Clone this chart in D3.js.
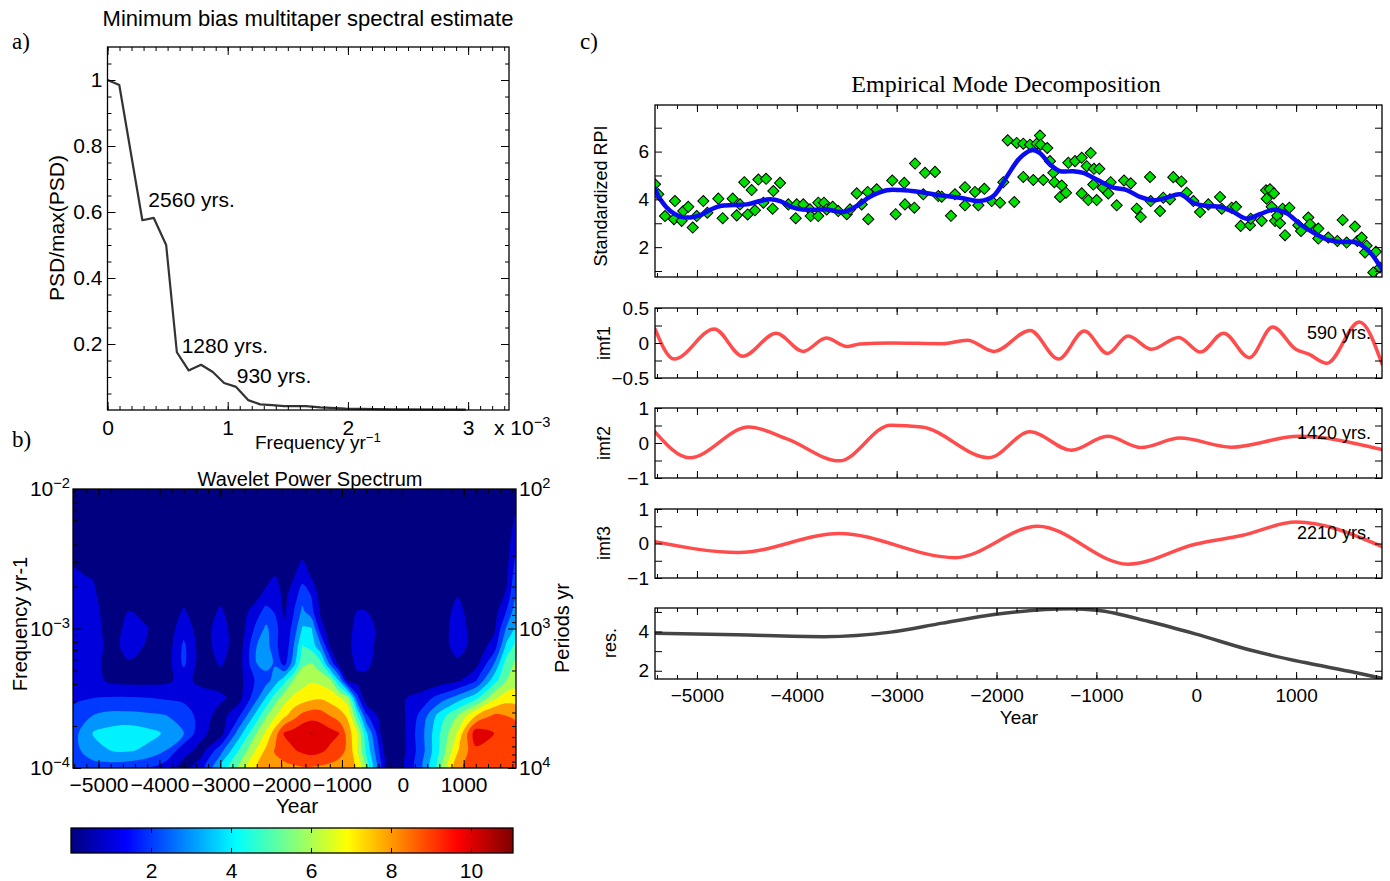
<!DOCTYPE html>
<html>
<head>
<meta charset="utf-8">
<script src="https://cdn.jsdelivr.net/npm/d3@7/dist/d3.min.js"></script>
<style>
  body { margin: 0; background: #fff; }
</style>
</head>
<body>
<svg id="fig" width="1390" height="881"></svg>
<script>
"use strict";

// ---------- a) minimum bias multitaper spectrum (frequency in 1e-3 / yr) ----------
var psdFreq  = [0, 0.098, 0.29, 0.385, 0.488, 0.577, 0.675, 0.778, 0.876, 0.97, 1.07, 1.17, 1.27, 1.37, 1.47, 1.65, 1.77, 1.98, 2.36, 2.98];
var psdValue = [1.0, 0.985, 0.575, 0.582, 0.50, 0.175, 0.12, 0.137, 0.115, 0.082, 0.07, 0.03, 0.017, 0.015, 0.012, 0.012, 0.008, 0.004, 0.002, 0.001];
var psdPeakLabel = ["2560 yrs.", "1280 yrs.", "930 yrs."];
var psdPeakFreq  = [0.34, 0.617, 1.075];
var psdPeakValue = [0.615, 0.173, 0.082];

// ---------- b) wavelet power spectrum on a coarse grid ----------
var waveYears = [-5420, -5100, -4800, -4500, -4200, -3900, -3600, -3300, -3000, -2700, -2400, -2250, -2100, -1950, -1800, -1650,
                 -1500, -1350, -1200, -1050, -900, -750, -600, -300, 0, 300, 600, 900, 1200, 1500, 1700, 1860];
var waveLogF = [-2, -2.125, -2.25, -2.375, -2.5, -2.625, -2.75, -2.875, -3, -3.125, -3.25, -3.375, -3.5, -3.625, -3.75, -3.875, -4];
var wavePower = [
  [0.3,0.2,0.2,0.2,0.2,0.2,0.2,0.2,0.2,0.2, 0.2,0.2,0.2,0.2,0.2,0.2,0.2,0.2,0.2,0.2, 0.2,0.2,0.2,0.2,0.2,0.2,0.2,0.2,0.2,0.2, 0.2,0.6],
  [0.3,0.2,0.2,0.2,0.2,0.2,0.2,0.2,0.2,0.2, 0.2,0.2,0.2,0.2,0.2,0.2,0.2,0.2,0.2,0.2, 0.2,0.2,0.2,0.2,0.2,0.2,0.2,0.2,0.2,0.2, 0.2,0.9],
  [0.4,0.3,0.2,0.2,0.2,0.2,0.2,0.2,0.2,0.2, 0.2,0.2,0.3,0.2,0.2,0.3,0.2,0.2,0.2,0.2, 0.2,0.2,0.2,0.2,0.1,0.1,0.2,0.2,0.2,0.2, 0.3,1.3],
  [0.5,0.3,0.3,0.3,0.3,0.2,0.2,0.2,0.2,0.2, 0.3,0.3,0.3,0.2,0.3,0.4,0.3,0.2,0.2,0.2, 0.2,0.2,0.2,0.2,0.1,0.1,0.2,0.2,0.2,0.2, 0.4,1.8],
  [0.9,0.6,0.3,0.3,0.3,0.2,0.2,0.2,0.2,0.2, 0.3,0.4,0.6,0.3,0.6,0.95,0.5,0.3,0.2,0.2, 0.2,0.2,0.2,0.2,0.1,0.1,0.2,0.3,0.2,0.2, 0.6,2.2],
  [1.1,0.95,0.3,0.3,0.3,0.2,0.2,0.2,0.2,0.2, 0.3,0.5,1.0,0.4,0.9,1.6,0.9,0.3,0.2,0.2, 0.2,0.2,0.3,0.2,0.1,0.1,0.2,0.5,0.2,0.3, 0.8,2.6],
  [1.1,1.2,0.3,0.5,0.4,0.2,0.6,0.2,0.6,0.2, 0.6,1.3,1.5,0.7,1.4,2.5,1.9,0.5,0.3,0.2, 0.2,0.5,0.5,0.2,0.1,0.1,0.2,0.9,0.2,0.3, 1.1,3.1],
  [1.1,1.4,0.4,1.0,0.6,0.3,1.1,0.3,1.15,0.3, 1.6,2.3,1.9,0.8,1.9,3.2,2.3,0.8,0.3,0.2, 0.3,1.0,1.0,0.2,0.1,0.1,0.2,1.4,0.2,0.5, 2.0,3.6],
  [1.1,1.5,0.5,1.3,1.05,0.3,1.6,0.4,1.5,0.3, 2.3,3.2,2.4,1.2,2.3,4.1,4.05,1.4,0.5,0.3, 0.5,1.5,1.6,0.3,0.1,0.1,0.2,1.7,0.3,0.8, 3.1,4.2],
  [1.1,1.6,0.6,1.4,0.9,0.3,2.2,0.4,1.5,0.4, 3.0,3.4,2.4,1.1,2.9,5.05,4.6,3.2,0.9,0.4, 0.7,1.5,1.5,0.3,0.1,0.1,0.2,1.6,0.4,1.4, 4.2,5.3],
  [1.1,1.5,0.5,0.9,0.6,0.4,2.2,0.4,1.1,0.5, 3.0,3.3,2.9,1.6,3.5,5.8,6.05,5.3,2.8,0.7, 0.4,1.3,1.3,0.2,0.1,0.1,0.3,0.7,0.6,3.0, 5.4,6.2],
  [1.0,1.4,0.8,0.7,0.7,0.8,1.3,0.7,0.6,0.6, 2.2,2.6,3.45,4.7,6.05,6.6,6.9,6.7,6.4,4.0, 0.8,0.6,0.6,0.2,0.2,0.3,0.5,0.85,1.95,4.6, 6.0,6.6],
  [1.8,2.0,2.1,2.1,2.05,1.9,1.8,1.5,1.2,0.6, 2.8,4.1,5.5,6.55,7.2,7.5,7.8,7.9,7.6,7.25, 6.3,2.4,0.3,0.2,0.9,1.4,2.4,3.5,4.7,6.8, 7.6,7.5],
  [2.3,3.0,3.3,3.3,3.2,3.05,2.5,1.6,0.5,1.8, 4.45,5.85,6.85,7.75,8.6,9.3,9.6,9.5,9.0,8.5, 7.8,5.1,2.2,0.2,0.8,2.3,4.4,6.0,8.0,9.2, 9.0,8.8],
  [2.6,4.0,4.4,4.6,4.3,3.9,3.0,1.2,0.5,3.45, 6.05,7.15,8.5,10.1,10.4,10.8,11.05,10.7,10.4,10.05, 8.5,7.1,4.2,0.1,0.75,2.6,4.9,7.1,10.6,10.0, 9.6,9.4],
  [2.6,3.6,4.0,4.1,3.8,3.0,1.3,0.7,2.6,5.0, 7.15,8.2,9.1,9.5,9.9,10.2,10.4,10.2,9.8,9.35, 8.8,7.1,4.8,0.8,0.75,2.5,5.0,7.9,9.8,9.8, 9.5,9.3],
  [2.2,2.5,2.5,2.3,2.0,1.4,0.6,1.6,4.0,6.2, 8.0,8.3,8.6,8.7,8.8,8.9,8.9,8.8,8.7,8.6, 8.3,7.85,5.6,0.8,0.77,2.7,5.4,8.8,9.4,9.5, 9.3,9.2]
];
var waveLevels = [1, 2, 3, 4, 5, 6, 7, 8, 9, 10, 11];
var colorMax = 11.05;
var colorbarTicks = [2, 4, 6, 8, 10];

// ---------- c) empirical mode decomposition ----------
var rpiYear = [-5420,-5387,-5320,-5230,-5220,-5153,-5137,-5087,-5042,-5002,-4936,-4896,-4786,-4742,-4642,-4602,-4569,-4526,-4492,-4452,
  -4419,-4385,-4335,-4308,-4242,-4235,-4168,-4085,-4011,-4001,-3935,-3868,-3861,-3785,-3785,-3728,-3701,-3641,-3585,
  -3500,-3467,-3400,-3350,-3290,-3284,-3200,-3044,-3010,-2924,-2917,-2823,-2816,-2733,-2716,-2616,-2583,-2549,-2456,-2416,
  -2316,-2316,-2216,-2182,-2122,-2048,-1965,-1932,-1888,-1822,-1798,-1732,-1732,
  -1665,-1632,-1598,-1565,-1558,-1532,-1492,-1465,-1431,-1421,-1364,-1347,-1304,-1281,-1214,-1147,-1147,-1097,-1081,-1057,
  -1031,-1024,-997,-971,-937,-881,-857,-797,-723,-656,-596,-556,-463,-456,-363,-330,-263,-230,-149,-96,-29,38,121,
  238,255,355,398,445,538,545,655,699,705,738,755,778,789,812,839,865,889,932,1022,1049,1122,1139,1222,1222,1322,1413,1466,
  1506,1589,1613,1656,1690,1706,1773,1799,1840];
var rpiValue = [4.63,4.21,3.30,3.17,3.93,3.10,3.51,3.69,2.82,3.30,3.93,3.44,4.03,3.21,4.03,3.33,3.79,4.72,3.37,4.39,
  3.54,4.83,3.86,4.86,3.61,4.35,4.69,3.79,3.21,3.79,3.79,3.58,3.30,3.86,3.30,3.86,3.58,3.69,3.51,
  3.38,3.58,4.25,3.79,4.31,3.17,4.42,4.79,3.38,4.69,3.79,3.65,5.50,4.21,5.11,5.15,4.14,4.11,3.31,4.21,
  4.51,3.75,4.31,3.75,4.44,3.93,3.86,4.72,6.47,3.89,6.36,6.33,4.94,
  6.29,4.81,6.33,6.67,6.29,4.81,6.15,5.60,5.11,4.72,4.10,4.58,4.28,5.53,5.60,5.74,4.25,5.39,3.97,5.94,
  4.62,5.28,3.97,5.28,4.49,4.25,4.72,3.75,4.79,4.67,3.61,3.26,4.94,3.93,3.51,4.07,4.00,4.93,4.75,4.28,3.93,3.47,3.79,
  4.10,3.61,3.65,3.69,2.89,2.92,3.19,3.10,4.38,4.03,4.42,3.69,4.25,3.10,3.31,3.00,3.61,2.50,3.65,2.92,2.68,3.24,2.96,2.36,2.78,2.40,2.26,3.14,
  2.19,2.86,2.26,2.40,1.78,2.06,0.94,1.81,1.15];

var smoothYear = [-5420,-5367,-5267,-5167,-5067,-4967,-4867,-4767,-4633,-4500,-4367,-4267,-4167,-4033,-3900,-3700,-3533,-3400,-3267,-3100,
  -2967,-2767,-2567,-2367,-2165,-2032,-1898,-1765,-1648,-1565,-1464,-1364,-1231,-1131,-997,-831,-696,-563,-430,-296,
  -163,-30,103,238,371,505,638,772,905,1039,1172,1306,1439,1606,1740,1857];
var smoothValue = [4.45,4.0,3.51,3.28,3.24,3.34,3.56,3.72,3.76,3.79,3.93,4.0,3.93,3.65,3.56,3.58,3.47,3.72,4.11,4.38,
  4.39,4.31,4.17,4.07,3.93,4.14,4.95,5.74,6.06,5.94,5.46,5.18,5.18,5.11,4.83,4.49,4.39,4.10,3.96,4.07,
  4.21,3.86,3.72,3.69,3.47,3.19,3.38,3.56,3.42,2.96,2.61,2.33,2.22,2.19,1.78,1.08];

var imf1Year  = [-5420,-5229,-4826,-4542,-4206,-3937,-3705,-3498,-3369,-3059,-2542,-2294,-2025,-1664,-1379,-1121,-889,-682,-449,-176,42,274,532,765,997,1127,1308,1633,1860];
var imf1Value = [0.2,-0.23,0.2,-0.19,0.14,-0.12,0.07,-0.05,-0.015,0,-0.01,0.04,-0.12,0.18,-0.23,0.17,-0.15,0.1,-0.09,0.08,-0.13,0.14,-0.21,0.23,-0.09,-0.16,-0.29,0.3,-0.30];
var imf2Year  = [-5420,-5074,-4480,-4092,-3575,-3059,-2749,-2077,-1664,-1250,-889,-553,-165,352,1023,1860];
var imf2Value = [0.32,-0.42,0.46,0.11,-0.51,0.51,0.46,-0.42,0.32,-0.21,0.19,-0.13,0.14,-0.12,0.19,-0.19];
var imf3Year  = [-5420,-4583,-3575,-2413,-1586,-682,-10,455,997,1860];
var imf3Value = [0.05,-0.26,0.29,-0.41,0.5,-0.6,-0.02,0.23,0.62,-0.09];
var resYear   = [-5420,-4609,-3730,-3059,-2542,-2025,-1250,-992,-475,-10,558,1075,1592,1860];
var resValue  = [3.91,3.83,3.74,3.97,4.43,4.87,5.16,5.08,4.51,3.88,3.03,2.43,1.91,1.61];
var imfPeriodLabel = ["590 yrs.", "1420 yrs.", "2210 yrs."];
var yearTicks = [-5000, -4000, -3000, -2000, -1000, 0, 1000];

// ---------- helpers ----------
var svg = d3.select("#fig");
var sans = "'Liberation Sans', Arial, Helvetica, sans-serif";
var serif = "'Liberation Serif', 'Times New Roman', serif";
var blank = function() { return ""; };

function jet(t) {
  t = Math.max(0, Math.min(1, t));
  var c = function(v) { return Math.round(255 * Math.max(0, Math.min(1, v))); };
  return d3.rgb(c(1.5 - Math.abs(4 * t - 3)), c(1.5 - Math.abs(4 * t - 2)), c(1.5 - Math.abs(4 * t - 1))).formatHex();
}

function axisG(parent, axis, tx, ty, fs) {
  var a = parent.append("g").attr("transform", "translate(" + tx + "," + ty + ")").call(axis);
  a.select(".domain").remove();
  a.attr("font-family", sans).attr("font-size", fs || 19);
  a.selectAll("line").attr("stroke", "#000").attr("stroke-width", 1);
  a.selectAll("text").attr("fill", "#000");
  return a;
}

// inward ticks on all four sides, MATLAB style
function ticks4(parent, x, y, xv, yv, len) {
  var xr = x.range(), yr = y.range();
  if (xv) {
    axisG(parent, d3.axisBottom(x).tickValues(xv).tickSize(-len).tickFormat(blank), 0, yr[0]);
    axisG(parent, d3.axisTop(x).tickValues(xv).tickSize(-len).tickFormat(blank), 0, yr[1]);
  }
  if (yv) {
    axisG(parent, d3.axisLeft(y).tickValues(yv).tickSize(-len).tickFormat(blank), xr[0], 0);
    axisG(parent, d3.axisRight(y).tickValues(yv).tickSize(-len).tickFormat(blank), xr[1], 0);
  }
}

function box(parent, x, y) {
  var xr = x.range(), yr = y.range();
  parent.append("rect").attr("x", xr[0]).attr("y", yr[1])
    .attr("width", xr[1] - xr[0]).attr("height", yr[0] - yr[1])
    .attr("fill", "none").attr("stroke", "#000").attr("stroke-width", 1.3);
}

function label(parent, txt, x, y, fs, anchor, font, rot) {
  var t = parent.append("text").attr("font-family", font || sans).attr("font-size", fs)
    .attr("text-anchor", anchor || "middle").attr("fill", "#000").text(txt);
  if (rot) t.attr("transform", "translate(" + x + "," + y + ") rotate(" + rot + ")");
  else t.attr("x", x).attr("y", y);
  return t;
}

function superscript(sel, base, exp, fs) {
  sel.text(null);
  sel.append("tspan").text(base);
  sel.append("tspan").attr("dy", "-0.55em").attr("font-size", fs * 0.7).text(exp);
}

var defs = svg.append("defs");
function clipRect(id, x, y) {
  var xr = x.range(), yr = y.range();
  defs.append("clipPath").attr("id", id).append("rect")
    .attr("x", xr[0]).attr("y", yr[1]).attr("width", xr[1] - xr[0]).attr("height", yr[0] - yr[1]);
  return "url(#" + id + ")";
}

// ================= a) =================
var xA = d3.scaleLinear().domain([0, 3.34]).range([107.5, 509]);
var yA = d3.scaleLinear().domain([0, 1.1]).range([410, 47]);
var gA = svg.append("g");

gA.append("path").datum(d3.zip(psdFreq, psdValue))
  .attr("d", d3.line().x(function(d) { return xA(d[0]); }).y(function(d) { return yA(d[1]); }))
  .attr("fill", "none").attr("stroke", "#333").attr("stroke-width", 2.2).attr("stroke-linejoin", "round");

psdPeakLabel.forEach(function(t, i) {
  label(gA, t, xA(psdPeakFreq[i]), yA(psdPeakValue[i]), 21, "start");
});

ticks4(gA, xA, yA, d3.range(0, 3.31, 0.1), d3.range(0.05, 1.09, 0.05), 4);
ticks4(gA, xA, yA, [0, 1, 2, 3], [0.2, 0.4, 0.6, 0.8, 1], 8);
axisG(gA, d3.axisBottom(xA).tickValues([0, 1, 2, 3]).tickSize(0).tickPadding(10).tickFormat(d3.format("d")), 0, 410, 21);
axisG(gA, d3.axisLeft(yA).tickValues([0.2, 0.4, 0.6, 0.8, 1]).tickSize(0).tickPadding(5)
  .tickFormat(function(d) { return d === 1 ? "1" : d3.format(".1f")(d); }), 107.5, 0, 21);
box(gA, xA, yA);

label(gA, "Minimum bias multitaper spectral estimate", 308, 26, 22);
label(gA, "a)", 12, 49, 23, "start", serif);
superscript(label(gA, "", 494, 435, 21, "start"), "x 10", "\u22123", 21);
superscript(label(gA, "", 318, 449, 19), "Frequency yr", "\u22121", 19);
label(gA, "PSD/max(PSD)", 64, 228, 21, "middle", sans, -90);

// ================= b) =================
var xB = d3.scaleLinear().domain([-5420, 1860]).range([73, 516]);
var yB = d3.scaleLog().domain([1e-4, 1e-2]).range([768, 489]);
var pB = d3.scaleLog().domain([1e4, 1e2]).range([768, 489]);
var gB = svg.append("g");
var gBc = gB.append("g").attr("clip-path", clipRect("clipB", xB, yB));

gBc.append("rect").attr("x", 73).attr("y", 489).attr("width", 443).attr("height", 279).attr("fill", jet(0));

var nx = waveYears.length, ny = waveLogF.length;
var gridX = d3.scaleLinear().domain(d3.range(nx).map(function(i) { return i + 0.5; })).range(waveYears).clamp(true);
var gridY = d3.scaleLinear().domain(d3.range(ny).map(function(j) { return j + 0.5; })).range(waveLogF).clamp(true);
var bands = d3.contours().size([nx, ny]).thresholds(waveLevels)(wavePower.flat());
var ringLine = d3.line().curve(d3.curveCatmullRomClosed.alpha(0.5));

function ringPath(ring) {
  var pts = [];
  ring.forEach(function(p) {
    var q = [xB(gridX(p[0])), yB(Math.pow(10, gridY(p[1])))];
    var last = pts[pts.length - 1];
    if (!last || Math.abs(last[0] - q[0]) > 0.3 || Math.abs(last[1] - q[1]) > 0.3) pts.push(q);
  });
  if (pts.length > 1) {
    var a = pts[0], b = pts[pts.length - 1];
    if (Math.abs(a[0] - b[0]) < 0.3 && Math.abs(a[1] - b[1]) < 0.3) pts.pop();
  }
  return pts.length > 2 ? ringLine(pts) : "";
}

gBc.selectAll("path.band").data(bands).enter().append("path")
  .attr("class", "band")
  .attr("fill-rule", "evenodd")
  .attr("fill", function(d) { return jet(d.value / colorMax); })
  .attr("d", function(d) {
    return d.coordinates.map(function(poly) { return poly.map(ringPath).join(""); }).join("");
  });

ticks4(gB, xB, yB, d3.range(-5400, 1801, 200), null, 4);
ticks4(gB, xB, yB, yearTicks, null, 8);
var fMinor = [], pMinor = [];
[1e-4, 1e-3].forEach(function(dec) { d3.range(2, 10).forEach(function(k) { fMinor.push(k * dec); }); });
[1e2, 1e3].forEach(function(dec) { d3.range(2, 10).forEach(function(k) { pMinor.push(k * dec); }); });
axisG(gB, d3.axisLeft(yB).tickValues(fMinor).tickSize(-4).tickFormat(blank), 73, 0);
axisG(gB, d3.axisLeft(yB).tickValues([1e-4, 1e-3, 1e-2]).tickSize(-8).tickFormat(blank), 73, 0);
axisG(gB, d3.axisRight(pB).tickValues(pMinor).tickSize(-4).tickFormat(blank), 516, 0);
axisG(gB, d3.axisRight(pB).tickValues([1e2, 1e3, 1e4]).tickSize(-8).tickFormat(blank), 516, 0);

axisG(gB, d3.axisBottom(xB).tickValues(yearTicks).tickSize(0).tickPadding(9).tickFormat(d3.format("d")), 0, 768, 21);
axisG(gB, d3.axisLeft(yB).tickValues([1e-4, 1e-3, 1e-2]).tickSize(0).tickPadding(3), 73, 0, 21)
  .selectAll("text").each(function(d) {
    superscript(d3.select(this), "10", "\u2212" + Math.round(-Math.log10(d)), 21);
  });
axisG(gB, d3.axisRight(pB).tickValues([1e2, 1e3, 1e4]).tickSize(0).tickPadding(3), 516, 0, 21)
  .selectAll("text").each(function(d) {
    superscript(d3.select(this), "10", String(Math.round(Math.log10(d))), 21);
  });
box(gB, xB, yB);

label(gB, "Wavelet Power Spectrum", 310, 486, 20);
label(gB, "b)", 12, 447, 23, "start", serif);
label(gB, "Year", 297, 813, 21);
label(gB, "Frequency yr-1", 27, 624, 20, "middle", sans, -90);
label(gB, "Periods yr", 569, 628, 20, "middle", sans, -90);

// colour bar
var cbX = d3.scaleLinear().domain([0, colorMax]).range([71, 513]);
var cbY = d3.scaleLinear().domain([0, 1]).range([853, 828]);
var grad = defs.append("linearGradient").attr("id", "jetGrad").attr("x1", 0).attr("x2", 1).attr("y1", 0).attr("y2", 0);
d3.range(0, 1.0001, 0.025).forEach(function(t) {
  grad.append("stop").attr("offset", t).attr("stop-color", jet(t));
});
gB.append("rect").attr("x", 71).attr("y", 828).attr("width", 442).attr("height", 25).attr("fill", "url(#jetGrad)");
ticks4(gB, cbX, cbY, colorbarTicks, null, 5);
axisG(gB, d3.axisBottom(cbX).tickValues(colorbarTicks).tickSize(0).tickPadding(10), 0, 853, 21);
box(gB, cbX, cbY);

// ================= c) =================
var xC = d3.scaleLinear().domain([-5420, 1860]).range([655, 1382]);
var gC = svg.append("g");
var yearMinor = d3.range(-5400, 1801, 200);
var monotone = d3.line().curve(d3.curveMonotoneX);

function emdPanel(id, y, yMajor, yLabels, yFmt) {
  var g = gC.append("g");
  var inner = g.append("g").attr("clip-path", clipRect(id, xC, y));
  ticks4(g, xC, y, yearMinor, null, 4);
  ticks4(g, xC, y, yearTicks, yMajor, 7);
  axisG(g, d3.axisLeft(y).tickValues(yLabels).tickSize(0).tickPadding(6).tickFormat(yFmt || d3.format("d")), 655, 0, 19);
  box(g, xC, y);
  return inner;
}

function curve(parent, xs, ys, y, color, w) {
  parent.append("path")
    .attr("d", monotone(xs.map(function(v, i) { return [xC(v), y(ys[i])]; })))
    .attr("fill", "none").attr("stroke", color).attr("stroke-width", w).attr("stroke-linecap", "round");
}

// top: standardized RPI with smooth fit
var yTop = d3.scaleLinear().domain([0.75, 7.95]).range([277, 105]);
var pTop = emdPanel("clipC0", yTop, [1, 2, 3, 4, 5, 6, 7], [2, 4, 6]);
pTop.selectAll("path.dia").data(d3.zip(rpiYear, rpiValue)).enter().append("path")
  .attr("class", "dia")
  .attr("d", d3.symbol().type(d3.symbolSquare).size(62))
  .attr("transform", function(d) { return "translate(" + xC(d[0]) + "," + yTop(d[1]) + ") rotate(45)"; })
  .attr("fill", "#00e000").attr("stroke", "#000").attr("stroke-width", 1);
pTop.append("path")
  .attr("d", d3.line().curve(d3.curveCatmullRom)(smoothYear.map(function(v, i) { return [xC(v), yTop(smoothValue[i])]; })))
  .attr("fill", "none").attr("stroke", "#0b0bf0").attr("stroke-width", 4.5).attr("stroke-linecap", "round");

// intrinsic mode functions
var yI1 = d3.scaleLinear().domain([-0.5, 0.5]).range([378, 308]);
var pI1 = emdPanel("clipC1", yI1, [-0.5, -0.25, 0, 0.25, 0.5], [-0.5, 0, 0.5], d3.format(".1~f"));
curve(pI1, imf1Year, imf1Value, yI1, "#ff4d4d", 3.5);

var yI2 = d3.scaleLinear().domain([-1, 1]).range([478, 408]);
var pI2 = emdPanel("clipC2", yI2, [-1, -0.5, 0, 0.5, 1], [-1, 0, 1]);
curve(pI2, imf2Year, imf2Value, yI2, "#ff4d4d", 3.5);

var yI3 = d3.scaleLinear().domain([-1, 1]).range([578, 509]);
var pI3 = emdPanel("clipC3", yI3, [-1, -0.5, 0, 0.5, 1], [-1, 0, 1]);
curve(pI3, imf3Year, imf3Value, yI3, "#ff4d4d", 3.5);

var yRes = d3.scaleLinear().domain([1.58, 5.2]).range([679, 608]);
var pRes = emdPanel("clipC4", yRes, [2, 3, 4, 5], [2, 4]);
curve(pRes, resYear, resValue, yRes, "#454545", 3.5);
axisG(gC, d3.axisBottom(xC).tickValues(yearTicks).tickSize(0).tickPadding(10).tickFormat(d3.format("d")), 0, 679, 19);

[339, 439, 539].forEach(function(yy, i) { label(gC, imfPeriodLabel[i], 1371, yy, 18, "end"); });

label(gC, "Empirical Mode Decomposition", 1006, 92, 24, "middle", serif);
label(gC, "c)", 580, 49, 23, "start", serif);
label(gC, "Standardized RPI", 607, 196, 18, "middle", sans, -90);
label(gC, "imf1", 610, 343, 18, "middle", sans, -90);
label(gC, "imf2", 610, 443, 18, "middle", sans, -90);
label(gC, "imf3", 610, 543, 18, "middle", sans, -90);
label(gC, "res.", 616, 643, 18, "middle", sans, -90);
label(gC, "Year", 1019, 724, 19);
</script>
</body>
</html>
